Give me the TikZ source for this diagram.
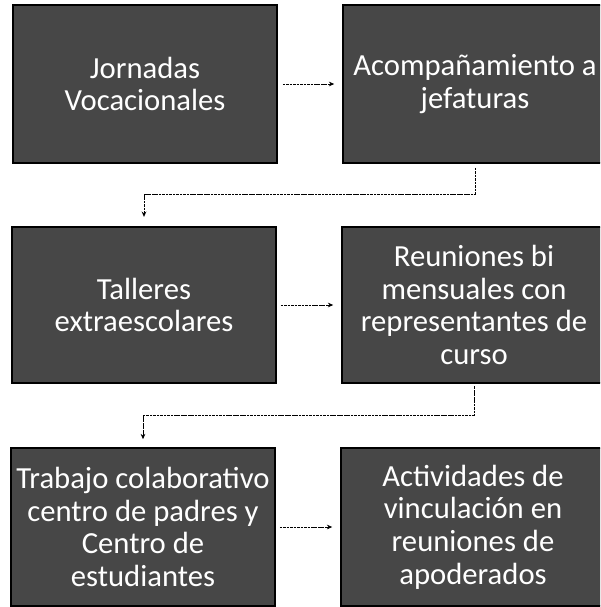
\documentclass[tikz,border=0pt]{standalone}
\usepackage{fontspec}
\setmainfont{Carlito}
\usetikzlibrary{arrows.meta}
\tikzset{
  box/.style={draw=black, line width=1.2pt, fill=black!72, text=white,
    minimum width=198pt, minimum height=118.5pt, inner sep=0pt, align=center,
    font=\fontsize{23}{24.5}\selectfont},
  conn/.style={draw=black, line width=0.6pt, dash pattern=on 2pt off 0.6pt,
    -{Stealth[length=4pt,width=3.5pt]}},
}
\begin{document}
\begin{tikzpicture}[x=0.75pt,y=-0.75pt]
\useasboundingbox (0,0) rectangle (600,607);
\begin{scope}
\clip (0,0) rectangle (600,607);
\node[box] (b1) at (145,84) {Jornadas\\Vocacionales};
\node[box] (b2) at (475,84) {Acompañamiento a\\jefaturas};
\node[box, minimum height=117pt] (b3) at (144,305) {Talleres\\extraescolares};
\node[box, minimum height=117pt] (b4) at (474,305) {Reuniones bi\\mensuales con\\representantes de\\curso};
\node[box] (b5) at (143,527) {Trabajo colaborativo\\centro de padres y\\Centro de\\estudiantes};
\node[box] (b6) at (473,527) {Actividades de\\vinculación en\\reuniones de\\apoderados};
\end{scope}
\draw[conn, shorten <=3.75pt, shorten >=6pt] (b1.east) -- (b2.west);
\draw[conn, shorten <=3pt, shorten >=6pt] (b3.east) -- (b4.west);
\draw[conn, shorten <=3pt, shorten >=6pt] (b5.east) -- (b6.west);
\draw[conn, shorten <=3pt, shorten >=7pt] (b2.south) -- (b2.south |- 0,194) -| (b3.north);
\draw[conn, shorten <=2pt, shorten >=6pt] (b4.south) -- (b4.south |- 0,415) -| (b5.north);
\end{tikzpicture}
\end{document}
